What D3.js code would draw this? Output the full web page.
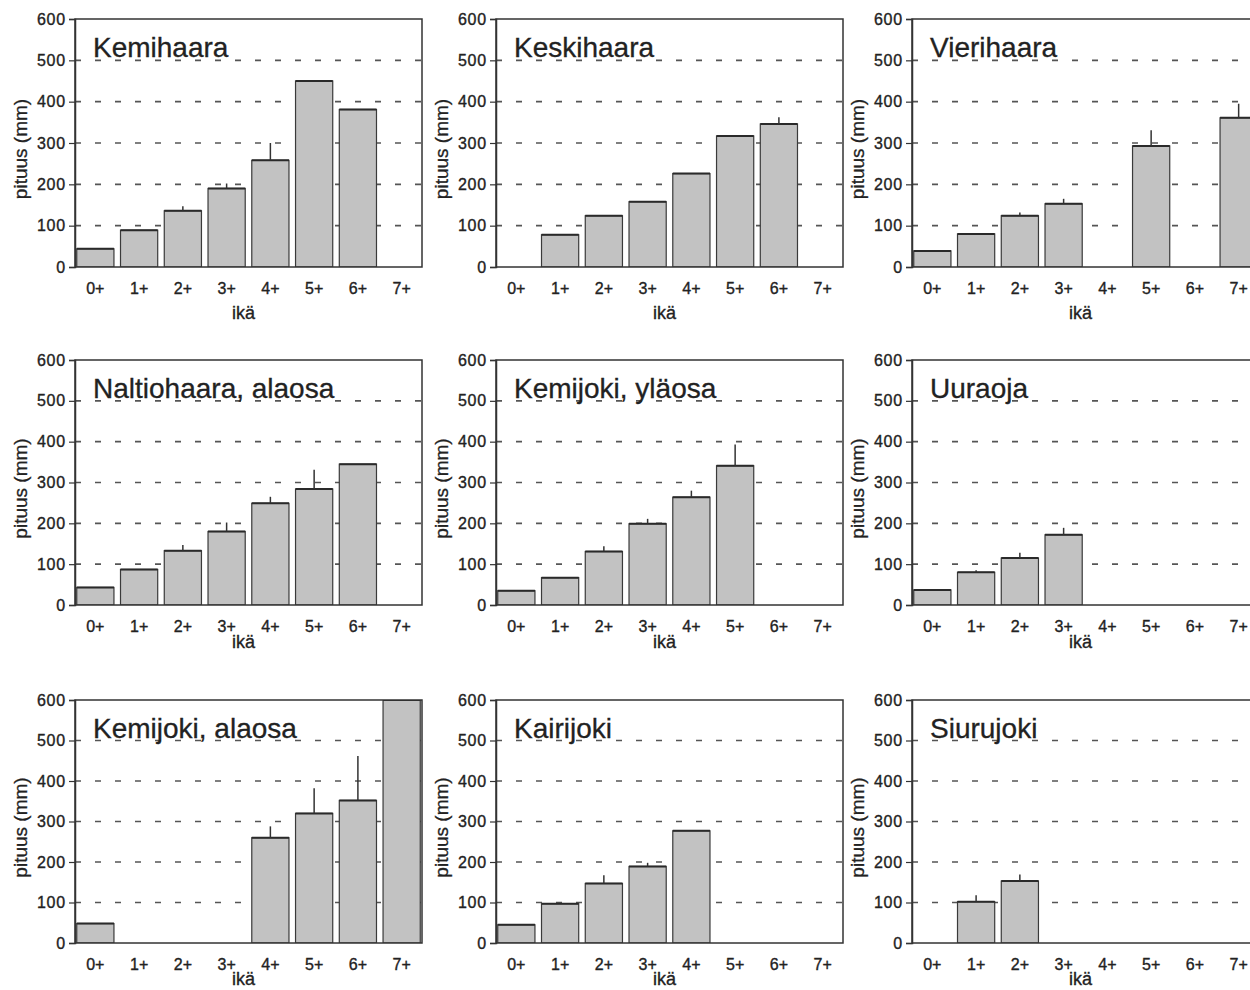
<!DOCTYPE html>
<html><head><meta charset="utf-8">
<script src="https://cdn.jsdelivr.net/npm/d3@7"></script>
<style>
html,body{margin:0;padding:0;background:#fff;}
svg{display:block;font-family:"Liberation Sans",Arial,Helvetica,sans-serif;}
</style></head>
<body><svg id="c" width="1250" height="990"></svg>
<script>
const ages = ["0+","1+","2+","3+","4+","5+","6+","7+"];
const yTicks = [0,100,200,300,400,500,600];
const sites = ["Kemihaara","Keskihaara","Vierihaara","Naltiohaara, alaosa","Kemijoki, yläosa","Uuraoja","Kemijoki, alaosa","Kairijoki","Siurujoki"];

// mean length (mm) per age group; null = no fish
const kemihaara   = [44, 89, 136, 190, 258, 450, 381, null];
const keskihaara  = [null, 78, 124, 158, 226, 317, 346, null];
const vierihaara  = [39, 80, 124, 153, null, 293, null, 361];
const naltiohaara = [43, 87, 133, 180, 249, 284, 345, null];
const kemijokiYla = [35, 67, 131, 199, 264, 341, null, null];
const uuraoja     = [37, 80, 115, 172, null, null, null, null];
const kemijokiAla = [48, null, null, null, 260, 320, 352, 620];
const kairijoki   = [45, 97, 147, 189, 277, null, null, null];
const siurujoki   = [null, 102, 153, null, null, null, null, null];

// upper end of error bar (mean + SE); null = none visible
const kemihaaraErr   = [null, null, 147, 202, 300, null, null, null];
const keskihaaraErr  = [null, null, null, null, null, null, 362, null];
const vierihaaraErr  = [null, null, 132, 165, null, 331, null, 395];
const naltiohaaraErr = [null, null, 147, 202, 265, 331, null, null];
const kemijokiYlaErr = [null, null, 144, 211, 280, 393, null, null];
const uuraojaErr     = [null, 85, 128, 189, null, null, null, null];
const kemijokiAlaErr = [null, null, null, null, 288, 382, 462, null];
const kairijokiErr   = [null, null, 167, 198, null, null, null, null];
const siurujokiErr   = [null, 118, 169, null, null, null, null, null];

const means = [kemihaara, keskihaara, vierihaara, naltiohaara, kemijokiYla, uuraoja, kemijokiAla, kairijoki, siurujoki];
const errs  = [kemihaaraErr, keskihaaraErr, vierihaaraErr, naltiohaaraErr, kemijokiYlaErr, uuraojaErr, kemijokiAlaErr, kairijokiErr, siurujokiErr];

const colX = [75, 496, 912];
const rowTop = [19, 360, 700];
const rowBottom = [267, 605, 943];
const ikaOff = [46, 37, 36];
const pw = 347;

const svg = d3.select("#c");
const ink = "#222";

sites.forEach((name, i) => {
  const r = Math.floor(i / 3), c = i % 3;
  const x0 = colX[c], top = rowTop[r], bot = rowBottom[r];
  const g = svg.append("g");
  const x = d3.scaleBand().domain(ages).range([x0, x0 + pw]).paddingInner(0.15).paddingOuter(0.04);
  const y = d3.scaleLinear().domain([0, 600]).range([bot, top]);

  const clipId = "clip" + i;
  svg.append("clipPath").attr("id", clipId).append("rect")
    .attr("x", x0).attr("y", top).attr("width", pw).attr("height", bot - top);

  // gridlines
  g.selectAll(".grid").data(yTicks.filter(t => t > 0 && t < 600)).join("line")
    .attr("x1", x0).attr("x2", x0 + pw).attr("y1", d => y(d)).attr("y2", d => y(d))
    .attr("stroke", "#555").attr("stroke-width", 1.6).attr("stroke-dasharray", "6,14");

  // title
  g.append("text").attr("x", x0 + 18).attr("y", top + 38)
    .attr("font-size", 28).attr("fill", ink).attr("stroke", ink).attr("stroke-width", 0.3).text(name);

  const data = ages.map((a, k) => ({a, v: means[i][k], e: errs[i][k]})).filter(d => d.v != null);
  const bars = g.append("g").attr("clip-path", `url(#${clipId})`);
  bars.selectAll("rect").data(data).join("rect")
    .attr("x", d => x(d.a)).attr("width", x.bandwidth())
    .attr("y", d => y(Math.min(d.v, 600))).attr("height", d => y(0) - y(Math.min(d.v, 600)))
    .attr("fill", "#c2c2c2").attr("stroke", "#3a3a3a").attr("stroke-width", 1.2);
  bars.selectAll("line.top").data(data).join("line").attr("class", "top")
    .attr("x1", d => x(d.a)).attr("x2", d => x(d.a) + x.bandwidth())
    .attr("y1", d => y(Math.min(d.v, 600))).attr("y2", d => y(Math.min(d.v, 600)))
    .attr("stroke", "#2a2a2a").attr("stroke-width", 2);
  g.selectAll("line.err").data(data.filter(d => d.e != null)).join("line").attr("class", "err")
    .attr("x1", d => x(d.a) + x.bandwidth() / 2).attr("x2", d => x(d.a) + x.bandwidth() / 2)
    .attr("y1", d => y(d.v)).attr("y2", d => y(d.e))
    .attr("stroke", "#333").attr("stroke-width", 1.5);

  // frame
  g.append("rect").attr("x", x0).attr("y", top).attr("width", pw).attr("height", bot - top)
    .attr("fill", "none").attr("stroke", "#333").attr("stroke-width", 1.5);

  // y axis
  const ya = g.append("g").attr("transform", `translate(${x0},0)`)
    .call(d3.axisLeft(y).tickValues(yTicks).tickSize(6).tickPadding(3));
  ya.select(".domain").attr("stroke", "#333").attr("stroke-width", 1.5);
  ya.selectAll(".tick line").attr("stroke", "#333").attr("stroke-width", 1.2);
  ya.selectAll("text").attr("font-size", 16).attr("fill", ink).attr("letter-spacing", 0.8)
    .attr("stroke", ink).attr("stroke-width", 0.35)
    .attr("font-family", "'Liberation Sans',Arial,sans-serif");

  // x axis labels
  const xa = g.append("g").attr("transform", `translate(0,${bot})`)
    .call(d3.axisBottom(x).tickSize(0).tickPadding(16));
  xa.select(".domain").remove();
  xa.selectAll("text").attr("font-size", 16).attr("fill", ink)
    .attr("stroke", ink).attr("stroke-width", 0.35)
    .attr("font-family", "'Liberation Sans',Arial,sans-serif");

  g.append("text").attr("x", x0 + pw / 2 - 5).attr("y", bot + ikaOff[r]).attr("dy", "0.35em")
    .attr("text-anchor", "middle").attr("font-size", 18).attr("fill", ink)
    .attr("stroke", ink).attr("stroke-width", 0.35).text("ikä");

  g.append("text").attr("transform", `translate(${x0 - 55},${(top + bot) / 2 + 6}) rotate(-90)`)
    .attr("text-anchor", "middle").attr("dy", "0.35em").attr("font-size", 19).attr("fill", ink)
    .attr("stroke", ink).attr("stroke-width", 0.3)
    .text("pituus (mm)");
});
</script></body></html>
